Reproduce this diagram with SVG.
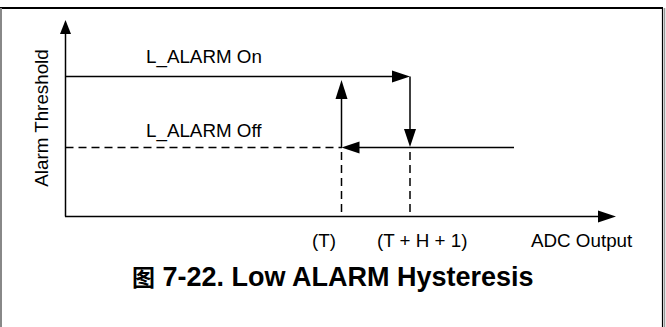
<svg xmlns="http://www.w3.org/2000/svg" width="666" height="327" viewBox="0 0 666 327">
<style>
.t{font-family:"Liberation Sans",Arial,sans-serif;font-size:18.8px;fill:#000}
.ln{stroke:#000;stroke-width:1.5;fill:none}
.ds{stroke:#000;stroke-width:1.5;fill:none;stroke-dasharray:8,5}
.ah{fill:#000}
</style>
<rect width="666" height="327" fill="#fff"/>
<g id="frame">
<line x1="0" y1="8" x2="663" y2="8" stroke="#000" stroke-width="2"/>
<line x1="1" y1="8" x2="1" y2="327" stroke="#888" stroke-width="2"/>
<line x1="662.5" y1="8" x2="662.5" y2="327" stroke="#000" stroke-width="1.2"/>
<line x1="664.5" y1="8" x2="664.5" y2="327" stroke="#999" stroke-width="1.5"/>
</g>
<g id="axes">
<line class="ln" x1="65.5" y1="30" x2="65.5" y2="216.5"/>
<polygon class="ah" points="65.5,20 60,34 71,34"/>
<line class="ln" x1="65" y1="216.5" x2="602" y2="216.5"/>
<polygon class="ah" points="616,216.5 598,210.5 598,222.5"/>
</g>
<g id="connectors">
<line class="ln" x1="65.5" y1="76.5" x2="395" y2="76.5"/>
<polygon class="ah" points="410,76.5 392,70.5 392,82.5"/>
<line class="ln" x1="410" y1="76.5" x2="410" y2="132"/>
<polygon class="ah" points="410,147 404,129 416,129"/>
<line class="ds" x1="65.5" y1="147.5" x2="342" y2="147.5"/>
<line class="ln" x1="514" y1="147.5" x2="356" y2="147.5"/>
<polygon class="ah" points="341.5,147.5 359.5,141.5 359.5,153.5"/>
<line class="ln" x1="341.5" y1="147.5" x2="341.5" y2="96"/>
<polygon class="ah" points="341.5,80 335.5,99 347.5,99"/>
<line class="ds" x1="341.5" y1="152" x2="341.5" y2="216"/>
<line class="ds" x1="410" y1="152" x2="410" y2="216"/>
</g>
<g id="labels">
<text class="t" x="146" y="62.5">L_ALARM On</text>
<text class="t" x="146" y="136.5">L_ALARM Off</text>
<text class="t" transform="translate(48,118) rotate(-90)" text-anchor="middle">Alarm Threshold</text>
<text class="t" x="312" y="247">(T)</text>
<text class="t" x="377" y="247">(T + H + 1)</text>
<text class="t" x="531" y="247">ADC Output</text>
</g>
<g id="title">
<text x="132" y="286" style="font-family:'Liberation Sans','Noto Sans CJK SC',sans-serif;font-weight:bold;font-size:27px"><tspan style="font-family:'Noto Sans CJK SC',sans-serif;font-size:23px">图</tspan> 7-22. Low ALARM Hysteresis</text>
</g>
</svg>
